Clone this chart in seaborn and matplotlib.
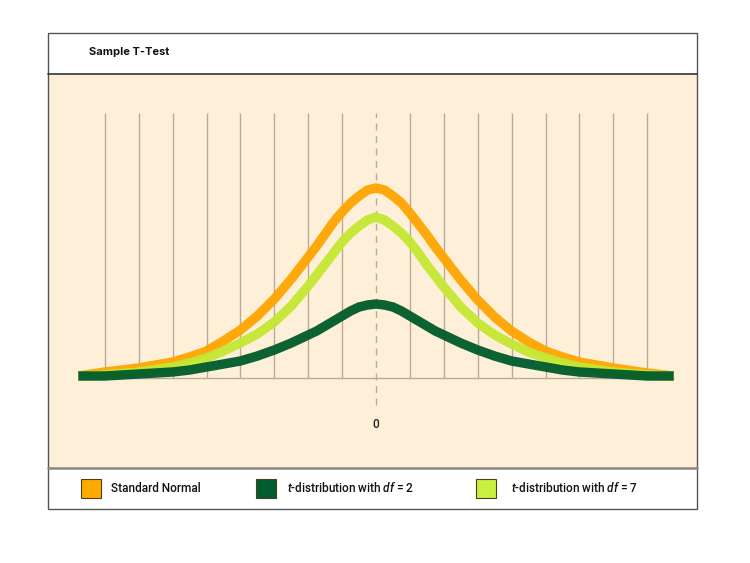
import pandas as pd
import numpy as np

import seaborn as sns
import matplotlib.pyplot as plt
from matplotlib.patches import Rectangle
from matplotlib.lines import Line2D

# curve heights (x in grid units, y in pixels above the baseline)
x_vals = [-8.78, -8, -7, -6, -5.5, -5, -4.5, -4, -3.5, -3, -2.5, -2, -1.75, -1.5, -1.25,
          -1, -0.75, -0.5, -0.25, 0,
          0.25, 0.5, 0.75, 1, 1.25, 1.5, 1.75, 2, 2.5, 3, 3.5, 4, 4.5, 5, 5.5,
          6, 7, 8, 8.78]
normal_vals = [2, 6, 10, 16, 21, 27, 37, 48, 62, 79, 99, 121, 132, 144, 156,
               166, 175, 182, 188, 190,
               188, 182, 175, 165, 154, 143, 131, 120, 98, 78, 61, 47, 36, 27, 21,
               16, 10, 5, 2]
t7_vals = [2, 3, 6, 11, 15, 20, 27, 35, 44, 56, 72, 92, 103, 114, 125,
           136, 145, 152, 158, 161,
           158, 152, 145, 136, 125, 113, 102, 91, 71, 55, 43, 34, 26, 20, 15,
           11, 6, 3, 2]
t2_vals = [2, 2, 4, 6, 8, 11, 14, 17, 22, 28, 35, 43, 47, 52, 57,
           62, 67, 71, 73, 74,
           73, 71, 67, 62, 57, 52, 47, 43, 35, 28, 22, 17, 14, 11, 8,
           6, 4, 2, 2]

grid_x = [-8, -7, -6, -5, -4, -3, -2, -1, 1, 2, 3, 4, 5, 6, 7, 8]

series_names = ["Standard Normal", "t-distribution with df = 7", "t-distribution with df = 2"]
legend_labels = ["Standard Normal",
                 r"$\mathit{t}$-distribution with $\mathit{df}$ = 2",
                 r"$\mathit{t}$-distribution with $\mathit{df}$ = 7"]
colors = {"Standard Normal": "#ffa400",
          "t-distribution with df = 7": "#c4e733",
          "t-distribution with df = 2": "#005a2b"}
legend_colors = ["#ffaa00", "#005c2f", "#c8f03f"]

W, H = 750, 563


def fx(px):
    return px / W


def fy(py):
    return 1 - py / H


def main():
    sns.set_theme(style="white")
    plt.rcParams["font.family"] = ["Inter", "DejaVu Sans"]
    plt.rcParams["mathtext.fontset"] = "custom"
    plt.rcParams["mathtext.rm"] = "Roboto:medium"
    plt.rcParams["mathtext.it"] = "Roboto:italic:medium"

    df = pd.concat([
        pd.DataFrame({"x": x_vals, "y": normal_vals, "series": series_names[0]}),
        pd.DataFrame({"x": x_vals, "y": t7_vals, "series": series_names[1]}),
        pd.DataFrame({"x": x_vals, "y": t2_vals, "series": series_names[2]}),
    ])

    fig = plt.figure(figsize=(7.5, 5.63), dpi=100)
    fig.patch.set_facecolor("white")
    ax = fig.add_axes([fx(48), fy(468), fx(697 - 48), (468 - 74) / H])
    ax.set_facecolor("#fef0d8")

    # grid
    ax.vlines(grid_x, 0, 265, color="#b8aa96", lw=1, zorder=1)
    ax.plot([0, 0], [-27, 265], color="#b8aa96", lw=1, ls=(0, (5, 4)), zorder=1)
    ax.hlines(0, -8.78, 8.78, color="#b8aa96", lw=1, zorder=1)

    sns.lineplot(data=df, x="x", y="y", hue="series", hue_order=series_names,
                 palette=colors, linewidth=6.8, legend=False, estimator=None,
                 sort=False, ax=ax, solid_capstyle="butt", solid_joinstyle="round",
                 alpha=0.95, zorder=2)

    ax.set_xlim((48 - 376) / 33.9, (697 - 376) / 33.9)
    ax.set_ylim(-90, 304)
    ax.set_xlabel("")
    ax.set_ylabel("")
    ax.set_xticks([])
    ax.set_yticks([])
    for s in ax.spines.values():
        s.set_visible(False)

    ax.text(0, -47, "0", ha="center", va="center", fontsize=8.5,
            fontweight="medium", family=["Roboto", "DejaVu Sans"], color="#222222")

    # frame and band separators
    fig.add_artist(Rectangle((fx(48), fy(509)), fx(697 - 48), (509 - 33) / H,
                             transform=fig.transFigure, fill=False,
                             edgecolor="#555555", lw=1))
    fig.add_artist(Line2D([fx(48), fx(697)], [fy(74), fy(74)],
                          transform=fig.transFigure, color="#333333", lw=1.2))
    fig.add_artist(Line2D([fx(48), fx(697)], [fy(468), fy(468)],
                          transform=fig.transFigure, color="#8a8580", lw=1.8))

    fig.text(fx(89), fy(52), "Sample T-Test", fontsize=8, fontweight="bold",
             va="center", ha="left", color="#111111")

    # legend band
    sq_x = [81, 256, 476]
    txt_x = [111, 287, 511]
    for sx, tx, lab, col in zip(sq_x, txt_x, legend_labels, legend_colors):
        fig.add_artist(Rectangle((fx(sx), fy(498)), 20 / W, 19 / H,
                                 transform=fig.transFigure, facecolor=col,
                                 edgecolor="#4a4020", lw=0.8))
        fig.text(fx(tx), fy(488), lab, fontsize=8.5, fontweight="medium",
                 family=["Roboto", "DejaVu Sans"],
                 va="center", ha="left", color="#111111")

    fig.savefig("out.png", dpi=100)


if __name__ == "__main__":
    main()
